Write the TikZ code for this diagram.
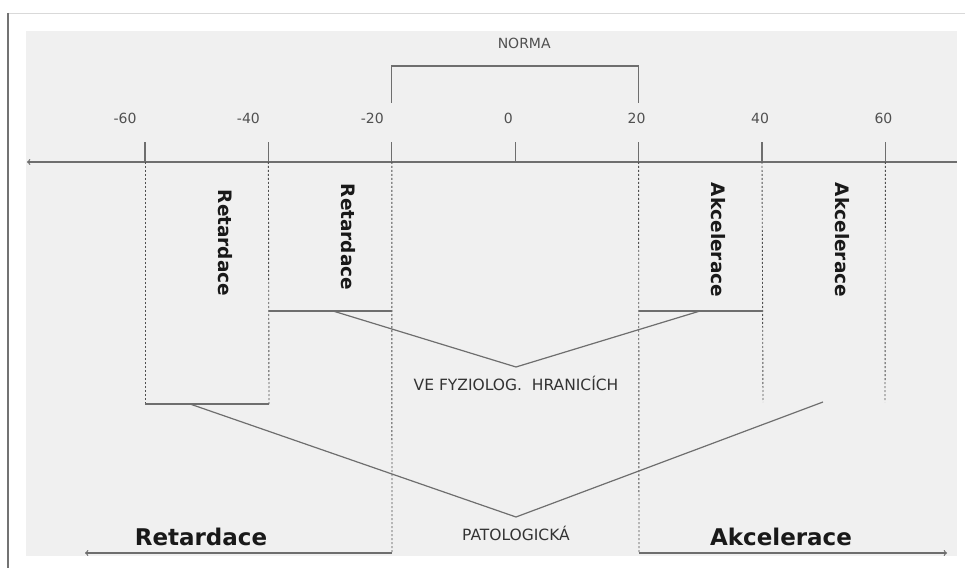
\documentclass[tikz,border=0pt]{standalone}
\usepackage{fontspec}
\setmainfont{DejaVu Sans}
\usetikzlibrary{positioning}
\definecolor{hintergrund}{HTML}{F0F0F0}
\definecolor{linie}{HTML}{6E6E6E}
\definecolor{schrift}{HTML}{505050}
\tikzset{
  achse/.style={draw=linie,line width=1.2pt},
  punktiert/.style={draw=schrift,line width=0.9pt,dash pattern=on 2pt off 2pt},
  zahl/.style={text=schrift,font=\fontsize{14}{16}\selectfont,inner sep=0pt},
  gruppe/.style={text=black!80,font=\fontsize{15.5}{18}\selectfont,inner sep=0pt},
  senkrecht/.style={text=black!90,font=\bfseries\fontsize{18.5}{20}\selectfont,rotate=-90,inner sep=0pt},
  gross/.style={text=black!90,font=\bfseries\fontsize{23}{26}\selectfont,inner sep=0pt}
}
\begin{document}
\begin{tikzpicture}[x=1pt,y=1pt,node distance=123.4pt]
\useasboundingbox (0,0) rectangle (965,568);
\fill[white] (0,0) rectangle (965,568);
\fill[hintergrund] (26,12) rectangle (957,537);
\draw[black!15,line width=0.8pt] (8,555) -- (965,555);
\draw[black!55,line width=1.8pt] (8,555) -- (8,0);
% Achse
\coordinate(M60) at (145,406);
\coordinate[right of = M60](M40);
\coordinate[right of = M40](M20);
\coordinate[right of = M20](NULL);
\coordinate[right of = NULL](P20);
\coordinate[right of = P20](P40);
\coordinate[right of = P40](P60);
\coordinate(AL) at (27,406);
\coordinate(AR) at (957,406);
\draw[achse,<-](AL)--(AR);
\foreach \t in {M60,M40,M20,NULL,P20,P40,P60}{\draw[achse](\t)--++(0,20);}
\node[zahl,above of = M60,node distance=44pt,xshift=-20pt](LM60){-60};
\node[zahl,above of = M40,node distance=44pt,xshift=-20pt](LM40){-40};
\node[zahl,above of = M20,node distance=44pt,xshift=-19.5pt](LM20){-20};
\node[zahl,above of = NULL,node distance=44pt,xshift=-7pt](LNULL){0};
\node[zahl,above of = P20,node distance=44pt,xshift=-2pt](LP20){20};
\node[zahl,above of = P40,node distance=44pt,xshift=-2pt](LP40){40};
\node[zahl,above of = P60,node distance=44pt,xshift=-2pt](LP60){60};
% Norma
\coordinate[above of = M20,node distance=59pt](NL);
\coordinate[above of = P20,node distance=59pt](NR);
\coordinate[above of = NULL,node distance=96pt](NO);
\draw[achse](NL)--(NL|-NO)--(NR|-NO)--(NR);
\node[zahl,above of = NULL,node distance=119pt,xshift=9pt](NORMA){NORMA};
% Felder
\coordinate(M60B) at (145,164);
\coordinate(M40B) at (269,164);
\coordinate(M40C) at (269,257);
\coordinate(M20C) at (392,257);
\coordinate(M20B) at (392,15);
\coordinate(P20B) at (639,15);
\coordinate(P20C) at (639,257);
\coordinate(P40C) at (763,257);
\coordinate(P40B) at (763,166);
\coordinate(P60B) at (885,166);
\draw[punktiert](M60)--(M60B);
\draw[punktiert](M40)--(M40B);
\draw[punktiert](M20)--(M20B);
\draw[punktiert](P20)--(P20B);
\draw[punktiert](P40)--(P40B);
\draw[punktiert](P60)--(P60B);
\draw[achse](M60B)--(M40B);
\draw[achse](M40C)--(M20C);
\draw[achse](P20C)--(P40C);
\node[senkrecht](R1) at (225,325){Retardace};
\node[senkrecht](R2) at (348,331){Retardace};
\node[senkrecht](A1) at (718,328){Akcelerace};
\node[senkrecht](A2) at (842,328){Akcelerace};
% Zusammenfassung
\coordinate(V1L) at (333,257);
\coordinate(V1M) at (516,201);
\coordinate(V1R) at (700,257);
\draw[achse](V1L)--(V1M)--(V1R);
\node[gruppe,below of = V1M,node distance=16pt](FYZ){VE FYZIOLOG.\ \ HRANICÍCH};
\coordinate(V2L) at (190,164);
\coordinate(V2M) at (516,51);
\coordinate(V2R) at (823,166);
\draw[achse](V2L)--(V2M)--(V2R);
\node[gruppe,below of = V2M,node distance=16pt](PAT){PATOLOGICKÁ};
% unten
\coordinate(PFL) at (85,15);
\coordinate(PFR) at (947,15);
\draw[achse,->](M20B)--(PFL);
\draw[achse,->](P20B)--(PFR);
\node[gross](RET) at (201,31){Retardace};
\node[gross](AKC) at (781,31){Akcelerace};
\end{tikzpicture}
\end{document}
